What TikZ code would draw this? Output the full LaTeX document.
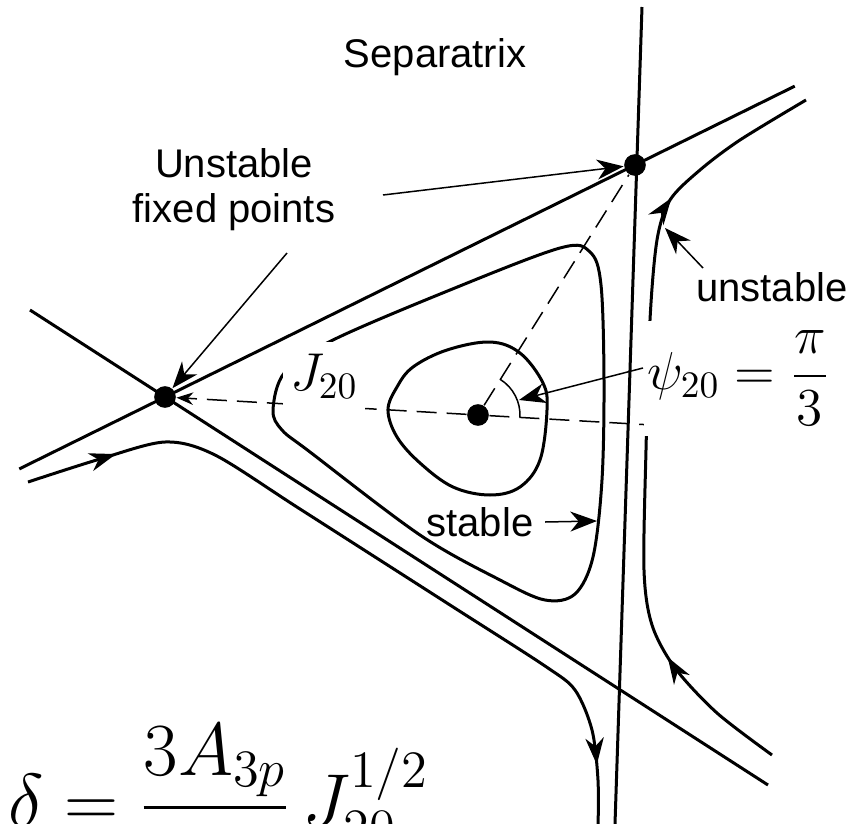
\RequirePackage{fix-cm}
\documentclass[tikz,border=0pt]{standalone}
\usepackage{fontspec}
\usepackage{amsmath}
\usepackage{tikz}
\usetikzlibrary{arrows.meta,calc,decorations.markings}
\newfontfamily\lblfont{Liberation Sans}

\begin{document}
\begin{tikzpicture}[x=0.3pt, y=-0.3pt, >=Stealth,
    every node/.style={font=\lblfont\fontsize{12}{13.5}\selectfont, align=center},
    sepline/.style={line width=0.9pt},
    orbit/.style={line width=0.9pt},
    guide/.style={line width=0.45pt, dash pattern=on 6pt off 3pt},
    pointer/.style={line width=0.45pt, -{Stealth[length=8pt, width=6pt, inset=2.5pt]}},
    fixpt/.style={circle, fill, inner sep=0pt, minimum size=6.5pt},
    mathlbl/.style={fill=white, inner sep=0pt, font=\fontsize{16}{19}\selectfont},
    flow/.style 2 args={postaction=decorate, decoration={markings,
        mark=at position #1 with {\arrow{Stealth[length=8pt, width=5.5pt, inset=2.5pt]}},
        mark=at position #2 with {\arrow{Stealth[length=8pt, width=5.5pt, inset=2.5pt]}}}}]
  \useasboundingbox (0,0) rectangle (852,824);
  \clip (0,0) rectangle (852,824);

  % fixed points and centre
  \node[fixpt] (pa) at (165,397) {};
  \node[fixpt] (pb) at (635,165) {};
  \node[fixpt] (ctr) at (478,415) {};

  % separatrix
  \draw[sepline] ($(pa)!-0.31!(pb)$) -- ($(pb)!-0.34!(pa)$);
  \draw[sepline] (30,310) -- (768,785);
  \draw[sepline] (642,7) -- (615,824);

  % orbits
  \draw[orbit] plot[smooth cycle, tension=0.55] coordinates {(273,410) (285,372)
    (333,340) (450,290) (560,248) (590,252) (601,285) (604,380) (602,480)
    (593,557) (575,594) (545,600) (500,580) (420,535) (310,452) (282,430)};
  \draw[orbit] plot[smooth cycle, tension=0.6] coordinates {(388,410) (397,387)
    (413,367) (447,350) (490,342) (520,353) (543,383) (547,410) (540,460)
    (520,487) (490,495) (453,487) (420,463) (397,437)};
  \draw[orbit, flow={0.12}{0.915}] plot[smooth, tension=0.5] coordinates {(28,482)
    (100,459) (165,442) (215,455) (300,509) (450,605) (545,666) (575,690)
    (592,730) (598,780) (598,830)};
  \draw[orbit, flow={0.185}{0.785}] plot[smooth, tension=0.5] coordinates {(772,755)
    (717,713) (675,668) (652,625) (644,570) (646,450) (650,320) (657,240)
    (670,200) (700,170) (740,140) (806,100)};

  % radius and angle
  \draw[guide, ->] (ctr) -- (pa);
  \draw[guide] (ctr) -- (pb);
  \draw[guide] (ctr) -- ($(pa)!1.7!(ctr)$);
  \draw[line width=0.45pt] ($(ctr)+(-3.3:12.6pt)$) arc[start angle=-3.3, end angle=57.9, radius=12.6pt];

  % labels
  \node (sepx) at (435,57) {Separatrix};
  \node (ufp) at (234,190) {Unstable\\fixed points};
  \node (unst) at (772,287) {unstable};
  \node (stab) at (480,522) {stable};
  \node[mathlbl, minimum width=24.6pt, minimum height=20.4pt] (jlab) at (324,376) {$J_{20}$};
  \node[mathlbl, anchor=west, minimum height=34.5pt, inner xsep=1pt] (psilab)
      at (643,378) {$\psi_{20} = \dfrac{\pi}{3}$};
  \node[anchor=base west, inner sep=0pt, font=\fontsize{22.5}{27}\selectfont] (dlt)
      at (8,826) {$\delta = \dfrac{3A_{3p}}{8\pi}\,J_{20}^{1/2}$};

  % pointers
  \coordinate (ufp-r) at (383,195);
  \coordinate (ufp-b) at (287,253);
  \coordinate (unst-t) at (703,268);
  \coordinate (unst-h) at (665,228);
  \coordinate (stab-h) at (597,521);
  \coordinate (arcpt) at (519,400);
  \draw[pointer] (ufp-r) -- (pb);
  \draw[pointer] (ufp-b) -- (pa);
  \draw[pointer] (unst-t) -- (unst-h);
  \draw[pointer] (stab.east) -- (stab-h);
  \draw[pointer] ($(psilab.west)+(0,-10)$) -- (arcpt);
\end{tikzpicture}
\end{document}
